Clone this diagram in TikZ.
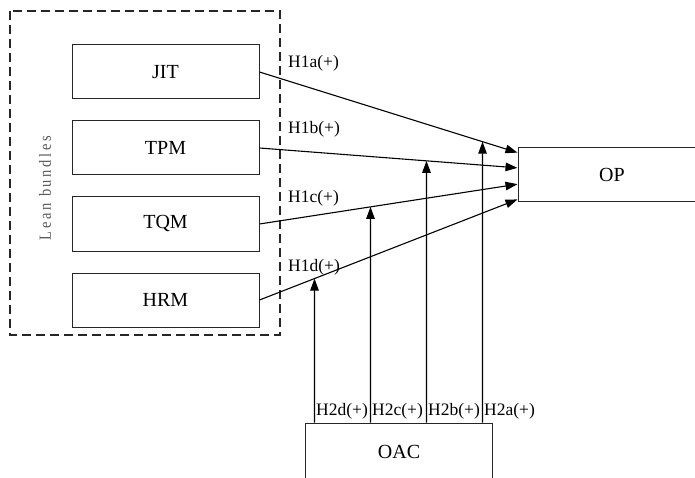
\documentclass[tikz,border=0pt]{standalone}
\usepackage{fontspec}
\usepackage{graphicx}
\setmainfont{Liberation Serif}
\newfontfamily\leanfont[LetterSpace=19]{Liberation Serif}
\usetikzlibrary{arrows.meta,calc}
\tikzset{
  factor/.style={draw=black!85, line width=1pt, minimum width=187pt, minimum height=54pt,
    inner sep=0pt, font=\fontsize{20}{24}\selectfont},
  hyp/.style={line width=1.1pt, -{Triangle[length=12pt,width=8.5pt]}},
  hlabel/.style={inner sep=0pt, font=\fontsize{17.5}{21}\selectfont},
  bundle/.style={draw=black!85, line width=1.2pt, dash pattern=on 9pt off 5pt}
}
\begin{document}
\begin{tikzpicture}[x=1pt,y=-1pt]
\useasboundingbox (0,0) rectangle (695,478);

% lean bundle group
\draw[bundle] (10,11) rectangle (280,335);
\node[rotate=90, text=black!65, inner sep=0pt] (lean) at (45,188)
  {\scalebox{0.85}[1]{\leanfont\fontsize{17}{20}\selectfont Lean bundles}};

\node[factor] (jit) at (165.5,72) {JIT};
\node[factor] (tpm) at (165.5,148) {TPM};
\node[factor] (tqm) at (165.5,224) {TQM};
\node[factor] (hrm) at (165.5,300) {HRM};

% outcome and moderator
\node[factor, minimum width=188pt] (op) at (612,175) {OP};
\node[factor, minimum width=187pt, minimum height=60pt] (oac) at (398.5,453) {};
\node[font=\fontsize{20}{24}\selectfont] (oact) at (399,452) {OAC};

% entry points on the OP box
\coordinate (opA) at ($(op.north west)!0.093!(op.south west)$);
\coordinate (opB) at ($(op.north west)!0.37!(op.south west)$);
\coordinate (opC) at ($(op.north west)!0.667!(op.south west)$);
\coordinate (opD) at ($(op.north west)!0.944!(op.south west)$);

\draw[hyp] (jit.east) -- (opA);
\draw[hyp] (tpm.east) -- (opB);
\draw[hyp] (tqm.east) -- (opC);
\draw[hyp] (hrm.east) -- (opD);

% moderating paths from OAC
\coordinate (bd) at ($(oac.north west)+(10,0)$);
\coordinate (bc) at ($(oac.north west)+(66,0)$);
\coordinate (bb) at ($(oac.north west)+(122,0)$);
\coordinate (ba) at ($(oac.north west)+(178,0)$);
\coordinate (bdu) at ($(bd)+(0,-100)$);
\coordinate (bcu) at ($(bc)+(0,-100)$);
\coordinate (bbu) at ($(bb)+(0,-100)$);
\coordinate (bau) at ($(ba)+(0,-100)$);

\draw[hyp] (bd) -- (intersection of hrm.east--opD and bd--bdu);
\draw[hyp] (bc) -- (intersection of tqm.east--opC and bc--bcu);
\draw[hyp] (bb) -- (intersection of tpm.east--opB and bb--bbu);
\draw[hyp] (ba) -- (intersection of jit.east--opA and ba--bau);

% hypothesis labels
\node[hlabel, anchor=west] (h1a) at (288,63) {H1a(+)};
\node[hlabel, anchor=west] (h1b) at (288,129) {H1b(+)};
\node[hlabel, anchor=west] (h1c) at (288,198) {H1c(+)};
\node[hlabel, anchor=west] (h1d) at (288,267) {H1d(+)};

\node[hlabel, anchor=west] (h2d) at ($(bd)+(1.5,-11)$) {H2d(+)};
\node[hlabel, anchor=west] (h2c) at ($(bc)+(1.5,-11)$) {H2c(+)};
\node[hlabel, anchor=west] (h2b) at ($(bb)+(1.5,-11)$) {H2b(+)};
\node[hlabel, anchor=west] (h2a) at ($(ba)+(1.5,-11)$) {H2a(+)};
\end{tikzpicture}
\end{document}
